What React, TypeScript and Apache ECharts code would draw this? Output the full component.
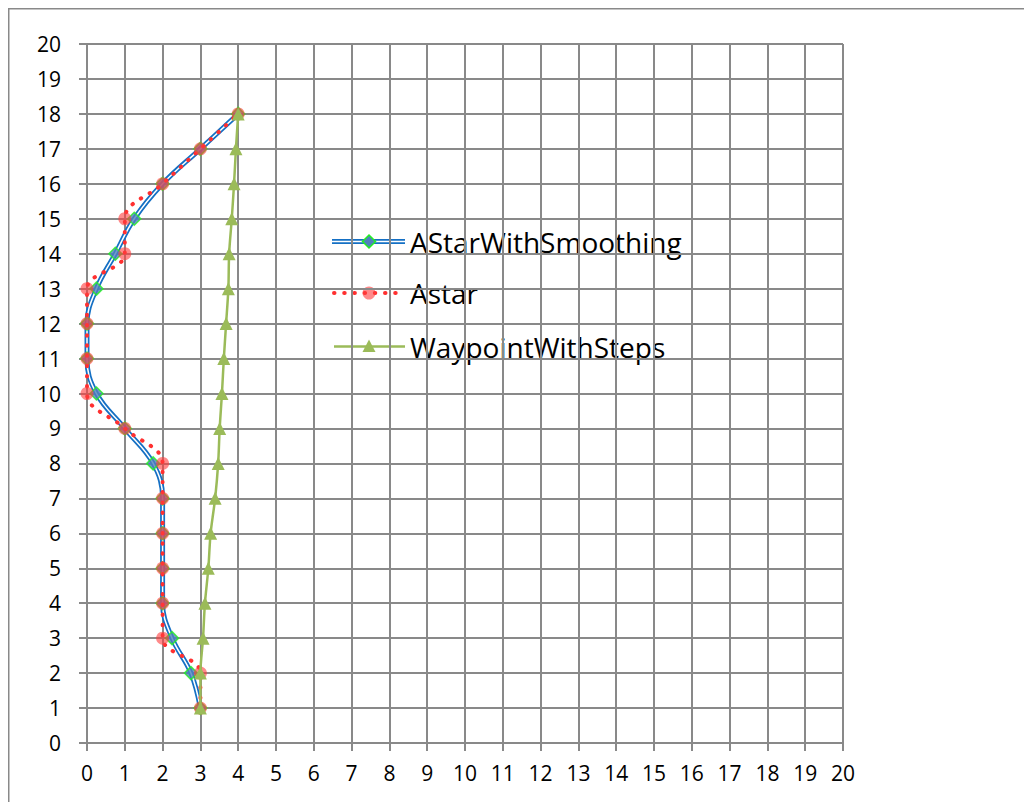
import React, { useEffect, useRef } from "react";
import * as echarts from "echarts";

// ---- data ----
const yLevels = [1, 2, 3, 4, 5, 6, 7, 8, 9, 10, 11, 12, 13, 14, 15, 16, 17, 18];
const smoothingX = [3, 2.75, 2.25, 2, 2, 2, 2, 1.75, 1, 0.25, 0, 0, 0.25, 0.75, 1.25, 2, 3, 4];
const astarX = [3, 3, 2, 2, 2, 2, 2, 2, 1, 0, 0, 0, 0, 1, 1, 2, 3, 4];
const waypointX = [3, 3, 3.07, 3.12, 3.21, 3.27, 3.39, 3.47, 3.51, 3.57, 3.62, 3.68, 3.74, 3.76, 3.83, 3.89, 3.94, 4];
const seriesNames = ["AStarWithSmoothing", "Astar", "WaypointWithSteps"];

const BLUE = "#1570C4";
const RED = "#FF3030";
const GREEN = "#9BBB59";
const GRID = "#898989";
const FONT = '"Open Sans", sans-serif';

const pairs = (xs: number[]) => xs.map((x, i) => [x, yLevels[i]]);

export default function App() {
  const ref = useRef<HTMLDivElement>(null);
  useEffect(() => {
    if (!ref.current) return;
    const chart = echarts.init(ref.current, null, { renderer: "svg" });

    const axisCommon = {
      type: "value" as const,
      min: 0,
      max: 20,
      interval: 1,
      axisLine: { show: true, onZero: false, lineStyle: { color: GRID, width: 2 } },
      axisTick: { show: true, inside: false, length: 8, lineStyle: { color: GRID, width: 2 } },
      splitLine: { show: true, lineStyle: { color: GRID, width: 2 } },
      axisLabel: { color: "#000", fontSize: 21, fontFamily: FONT },
    };

    // legend drawn as graphic
    const legendX0 = 324;
    const legendX1 = 397;
    const legendMid = 361;
    const textX = 402;
    const rows = [233.5, 285, 338.5];
    const legendGraphic: any[] = [];
    legendGraphic.push({
      type: "line",
      shape: { x1: legendX0, y1: rows[0], x2: legendX1, y2: rows[0] },
      style: { stroke: BLUE, lineWidth: 5 },
    });
    legendGraphic.push({
      type: "line",
      shape: { x1: legendX0, y1: rows[0], x2: legendX1, y2: rows[0] },
      style: { stroke: "#fff", lineWidth: 1.5 },
    });
    legendGraphic.push({
      type: "polygon",
      shape: {
        points: [
          [legendMid, rows[0] - 6.5],
          [legendMid + 6.5, rows[0]],
          [legendMid, rows[0] + 6.5],
          [legendMid - 6.5, rows[0]],
        ],
      },
      style: { fill: "#4F81BD", stroke: "#22EE22", lineWidth: 1.5 },
    });
    legendGraphic.push({
      type: "line",
      shape: { x1: legendX0 + 2, y1: rows[1], x2: legendX1 - 2, y2: rows[1] },
      style: { stroke: RED, lineWidth: 4, lineDash: [0.5, 9.7], lineCap: "round" },
    });
    legendGraphic.push({
      type: "circle",
      shape: { cx: legendMid, cy: rows[1], r: 6.5 },
      style: { fill: "rgba(255,60,60,0.6)" },
    });
    legendGraphic.push({
      type: "line",
      shape: { x1: legendX0 + 2, y1: rows[2], x2: legendX1, y2: rows[2] },
      style: { stroke: GREEN, lineWidth: 2.5 },
    });
    legendGraphic.push({
      type: "polygon",
      shape: {
        points: [
          [legendMid, rows[2] - 7],
          [legendMid + 6.5, rows[2] + 5.5],
          [legendMid - 6.5, rows[2] + 5.5],
        ],
      },
      style: { fill: GREEN },
    });
    seriesNames.forEach((n, i) => {
      legendGraphic.push({
        type: "text",
        x: textX,
        y: rows[i],
        style: { text: n, fill: "#000", font: `28px ${FONT}`, verticalAlign: "middle", align: "left" },
      });
    });

    chart.setOption({
      animation: false,
      backgroundColor: "#fff",
      grid: { left: 79, top: 36, width: 756, height: 699, containLabel: false },
      xAxis: { ...axisCommon, axisLabel: { ...axisCommon.axisLabel, margin: 19 } },
      yAxis: { ...axisCommon, axisLabel: { ...axisCommon.axisLabel, margin: 26 } },
      graphic: [
        {
          type: "line",
          shape: { x1: 0.75, y1: 0, x2: 0.75, y2: 794 },
          style: { stroke: GRID, lineWidth: 1.5 },
        },
        {
          type: "line",
          shape: { x1: 0, y1: 0.75, x2: 1016, y2: 0.75 },
          style: { stroke: GRID, lineWidth: 1.5 },
        },
        ...legendGraphic,
      ],
      series: [
        {
          name: seriesNames[0],
          type: "line",
          data: pairs(smoothingX),
          smooth: 0.4,
          symbol: "none",
          lineStyle: { color: BLUE, width: 5 },
          z: 2,
        },
        {
          name: "smoothingInner",
          type: "line",
          data: pairs(smoothingX),
          smooth: 0.4,
          symbol: "none",
          lineStyle: { color: "#fff", width: 1.5 },
          z: 3,
        },
        {
          name: "smoothingMarkers",
          type: "scatter",
          data: pairs(smoothingX),
          symbol: "diamond",
          symbolSize: 13,
          itemStyle: { color: "#4F81BD", borderColor: "#22EE22", borderWidth: 1.5 },
          z: 4,
        },
        {
          name: seriesNames[1],
          type: "line",
          data: pairs(astarX),
          smooth: 0.4,
          symbol: "circle",
          symbolSize: 13,
          showAllSymbol: true,
          lineStyle: { color: RED, width: 4, type: [0.5, 9.7], cap: "round" },
          itemStyle: { color: "rgba(255,60,60,0.6)", borderWidth: 0 },
          z: 5,
        },
        {
          name: seriesNames[2],
          type: "line",
          data: pairs(waypointX),
          smooth: 0.3,
          symbol: "triangle",
          symbolSize: 13,
          showAllSymbol: true,
          lineStyle: { color: GREEN, width: 2.5 },
          itemStyle: { color: GREEN },
          z: 6,
        },
      ],
    });
    return () => chart.dispose();
  }, []);
  return (
    <div
      ref={ref}
      style={{ position: "fixed", left: 8, top: 8, width: 1016, height: 794 }}
    />
  );
}
